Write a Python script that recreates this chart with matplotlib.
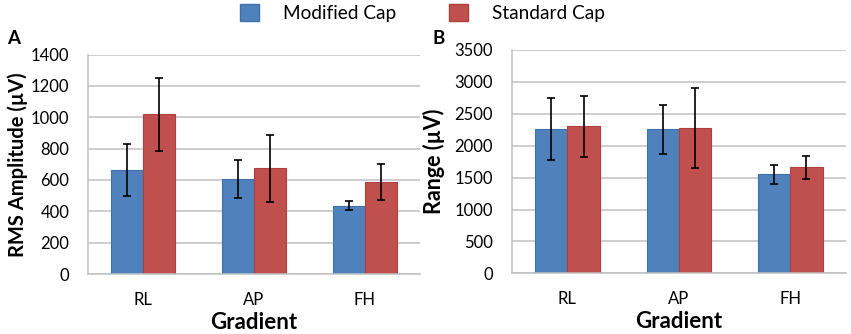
import matplotlib
matplotlib.use("Agg")
import numpy as np
from matplotlib import pyplot
from matplotlib.patches import Patch

"""

Two-panel bar chart of gradient artefact amplitude for cap types

"""

gradients = ["RL", "AP", "FH"]
series_names = ["Modified Cap", "Standard Cap"]

rms_modified = [663, 604, 436]
rms_modified_err = [166, 120, 27]
rms_standard = [1018, 674, 587]
rms_standard_err = [232, 213, 112]

range_modified = [2262, 2257, 1552]
range_modified_err = [488, 387, 151]
range_standard = [2304, 2278, 1661]
range_standard_err = [476, 625, 177]

blue = "#4F81BD"
red = "#C0504D"
grid_grey = "#C0C0C0"

pyplot.rcParams["font.family"] = ["Lato", "DejaVu Sans"]


def draw_panel(ax, mod, mod_err, std, std_err, ylabel, ymax, ystep,
               ylabel_size, ylabel_pad):
    x = np.arange(len(gradients))
    width = 0.29
    err_style = dict(ecolor="black", elinewidth=1.2, capsize=2.6, capthick=1.2)
    ax.bar(x - width / 2, mod, width, color=blue, edgecolor="#3F6FA8",
           linewidth=0.8, yerr=mod_err, error_kw=err_style, zorder=2)
    ax.bar(x + width / 2, std, width, color=red, edgecolor="#B03F3C",
           linewidth=0.8, yerr=std_err, error_kw=err_style, zorder=2)
    ax.set_xlim(-0.5, len(gradients) - 0.5)
    ax.set_ylim(0, ymax)
    ax.set_yticks(np.arange(0, ymax + 1, ystep))
    ax.set_xticks(x)
    ax.set_xticklabels(gradients)
    ax.yaxis.grid(True, color=grid_grey, linewidth=1.1, zorder=0)
    ax.set_axisbelow(True)
    for side in ["top", "right"]:
        ax.spines[side].set_visible(False)
    for side in ["left", "bottom"]:
        ax.spines[side].set_color(grid_grey)
        ax.spines[side].set_linewidth(1.1)
    ax.tick_params(axis="both", length=0, labelsize=12)
    ax.tick_params(axis="y", pad=13.5)
    ax.tick_params(axis="x", pad=13)
    ax.set_xlabel("Gradient", fontsize=16, fontweight="bold", labelpad=2.5)
    ax.set_ylabel(ylabel, fontsize=ylabel_size, fontweight="bold",
                  labelpad=ylabel_pad)


fig = pyplot.figure(figsize=(8.51, 3.34), dpi=100)
ax_a = fig.add_axes([0.1034, 0.1796, 0.3901, 0.6572])
ax_b = fig.add_axes([0.6013, 0.1817, 0.3928, 0.6686])

draw_panel(ax_a, rms_modified, rms_modified_err, rms_standard,
           rms_standard_err, "RMS Amplitude (µV)", 1400, 200, 14.5, 2)
draw_panel(ax_b, range_modified, range_modified_err, range_standard,
           range_standard_err, "Range (µV)", 3500, 500, 15.5, 7)

fig.text(0.008, 0.867, "A", fontsize=13.5, fontweight="bold",
         va="baseline")
fig.text(0.508, 0.867, "B", fontsize=13.5, fontweight="bold",
         va="baseline")

handles = [Patch(facecolor=blue, edgecolor="#3F6FA8"),
           Patch(facecolor=red, edgecolor="#B03F3C")]
fig.legend(handles, series_names, loc="center",
           bbox_to_anchor=(0.4965, 0.961), ncol=2, frameon=False,
           fontsize=13.7, handlelength=1.0, handleheight=1.0,
           handletextpad=1.25, columnspacing=2.8, borderpad=0)

pyplot.savefig("out.png", dpi=100)
